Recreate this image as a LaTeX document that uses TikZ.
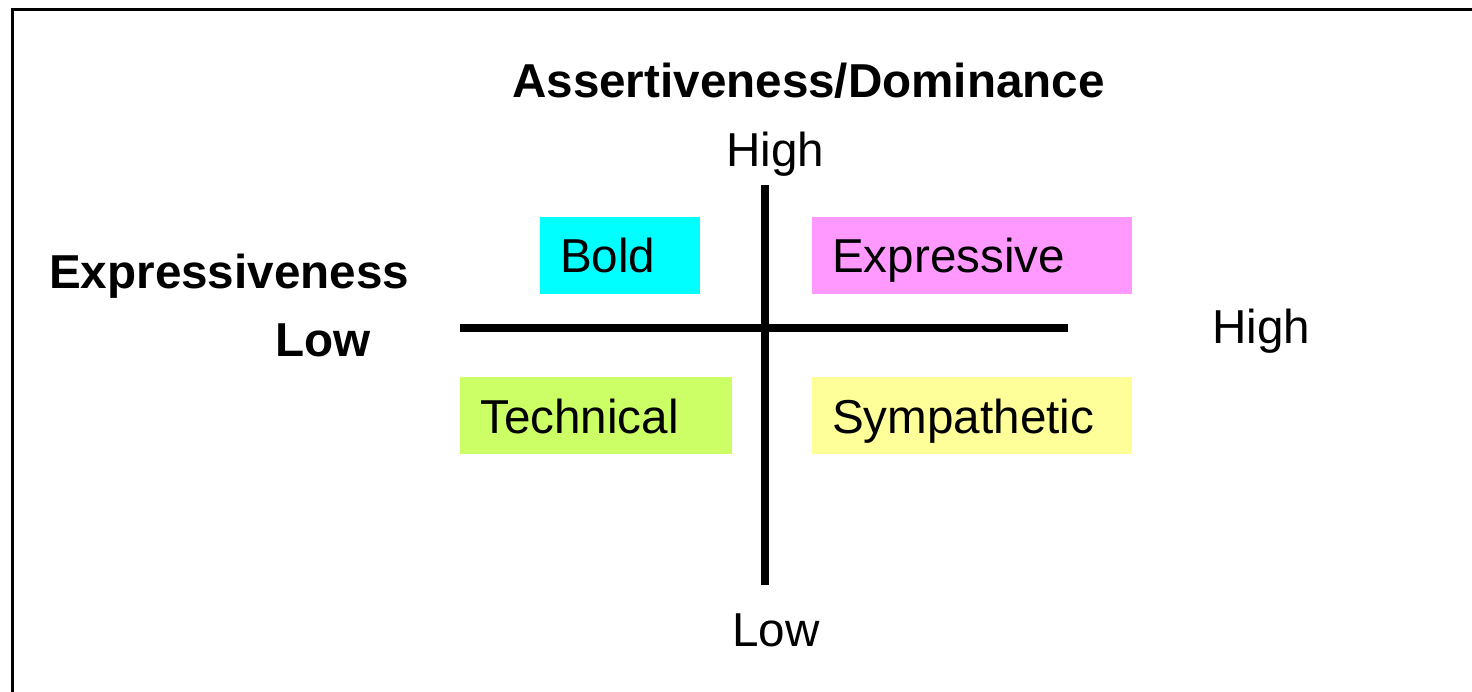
\documentclass[tikz,border=0pt]{standalone}
\usepackage{fontspec}
\setmainfont{Liberation Sans}
\definecolor{qcyan}{HTML}{00FFFF}
\definecolor{qpink}{HTML}{FF99FF}
\definecolor{qgreen}{HTML}{CCFF66}
\definecolor{qyellow}{HTML}{FFFF99}
\tikzset{
  lbl/.style={anchor=base west, inner sep=0pt, font=\fontsize{47.6}{56}\selectfont},
  blbl/.style={lbl, font=\fontsize{47.6}{56}\selectfont\bfseries},
  quad/.style={anchor=north west, inner sep=0pt, minimum height=77pt, draw=none},
  qtext/.style={anchor=base west, inner sep=0pt, font=\fontsize{47.6}{56}\selectfont},
  axis/.style={line width=8pt, black},
  frame/.style={line width=3pt, black}
}
\begin{document}
\begin{tikzpicture}[x=1pt, y=-1pt]
\useasboundingbox (0,0) rectangle (1472,692);
% open frame
\coordinate (fbl) at (12.5,700);
\coordinate (ftl) at (12.5,9.5);
\coordinate (ftr) at (1480,9.5);
\draw[frame] (fbl) -- (ftl) -- (ftr);
% quadrant boxes
\node[quad, fill=qcyan, minimum width=160pt] (boldbox) at (540,217) {};
\node[quad, fill=qpink, minimum width=320pt] (exprbox) at (812,217) {};
\node[quad, fill=qgreen, minimum width=272pt] (techbox) at (460,377) {};
\node[quad, fill=qyellow, minimum width=320pt] (sympbox) at (812,377) {};
\node[qtext] (boldt) at (560,273) {Bold};
\node[qtext] (exprt) at (832,273) {Expressive};
\node[qtext] (techt) at (480,433) {Technical};
\node[qtext] (sympt) at (832,433) {Sympathetic};
% axes
\coordinate (vt) at (764.5,185);
\coordinate (vb) at (764.5,585);
\coordinate (hl) at (460,328.5);
\coordinate (hr) at (1068,328.5);
\draw[axis] (hl) -- (hr);
\draw[axis] (vt) -- (vb);
% labels
\node[blbl] (title) at (512,98) {Assertiveness/Dominance};
\node[lbl] (hightop) at (726,167) {High};
\node[blbl] (exprlbl) at (49,289) {Expressiveness};
\node[blbl] (lowleft) at (275,357) {Low};
\node[lbl] (highright) at (1212,344) {High};
\node[lbl] (lowbottom) at (732,646) {Low};
\end{tikzpicture}
\end{document}
